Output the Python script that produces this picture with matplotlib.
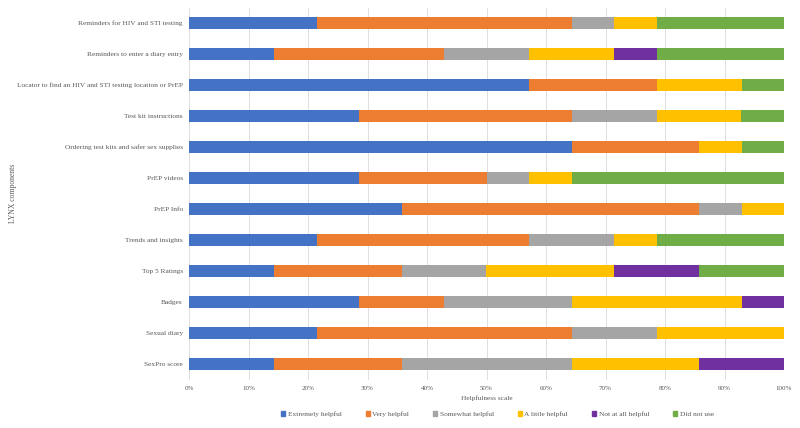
import numpy as np
import matplotlib
matplotlib.use("Agg")
import matplotlib.pyplot as plt
from matplotlib.patches import Patch

# ==========================
# data (number of respondents, n = 14)
# ==========================
components = [
    "Reminders for HIV and STI testing",
    "Reminders to enter a diary entry",
    "Locator to find an HIV and STI testing location or PrEP",
    "Test kit instructions",
    "Ordering test kits and safer sex supplies",
    "PrEP videos",
    "PrEP Info",
    "Trends and insights",
    "Top 5 Ratings",
    "Badges",
    "Sexual diary",
    "SexPro score",
]

levels = ["Extremely helpful", "Very helpful", "Somewhat helpful",
          "A little helpful", "Not at all helpful", "Did not use"]

extremely = [3, 2, 8, 4, 9, 4, 5, 3, 2, 4, 3, 2]
very      = [6, 4, 3, 5, 3, 3, 7, 5, 3, 2, 6, 3]
somewhat  = [1, 2, 0, 2, 0, 1, 1, 2, 2, 3, 2, 4]
little    = [1, 2, 2, 2, 1, 1, 1, 1, 3, 4, 3, 3]
not_at    = [0, 1, 0, 0, 0, 0, 0, 0, 2, 1, 0, 2]
not_used  = [3, 3, 1, 1, 1, 5, 0, 3, 2, 0, 0, 0]

ticks = [0, 10, 20, 30, 40, 50, 60, 70, 80, 90, 100]

colors = ["#4472C4", "#ED7D31", "#A5A5A5", "#FFC000", "#7030A0", "#70AD47"]
TEXT = "#595959"

# ==========================
# plot
# ==========================
plt.rcParams["font.family"] = ["Liberation Serif", "DejaVu Serif"]

counts = np.array([extremely, very, somewhat, little, not_at, not_used], dtype=float)
pct = counts / counts.sum(axis=0) * 100

fig = plt.figure(figsize=(8.0, 4.28), dpi=100)
ax = fig.add_axes([189 / 800, 1 - 379.5 / 428, 595 / 800, 372 / 428])

y = np.arange(len(components))
left = np.zeros(len(components))
for vals, lab, col in zip(pct, levels, colors):
    ax.barh(y, vals, left=left, height=0.39, color=col, label=lab, zorder=3)
    left += vals

ax.set_ylim(len(components) - 0.5, -0.5)
ax.set_xlim(0, 100)
ax.set_yticks(y)
ax.set_yticklabels(components, fontsize=5.3, color=TEXT)
ax.set_xticks(ticks)
ax.set_xticklabels([f"{t}%" for t in ticks], fontsize=5.0, color=TEXT)
ax.tick_params(axis="both", length=0)
ax.tick_params(axis="y", pad=4.5)
ax.tick_params(axis="x", pad=5)
ax.grid(axis="x", color="#D9D9D9", linewidth=0.6, zorder=0)
for s in ax.spines.values():
    s.set_visible(False)

ax.set_xlabel("Helpfulness scale", fontsize=5.2, color=TEXT, labelpad=2.5)
fig.text(13 / 800, 1 - 193.5 / 428, "LYNX components", rotation=90,
         ha="center", va="center", fontsize=5.5, color=TEXT)

handles = [Patch(color=c, label=l) for c, l in zip(colors, levels)]
fig.legend(handles=handles, loc="center", bbox_to_anchor=(0.622, 1 - 414 / 428),
           ncol=6, frameon=False, fontsize=5.3, handlelength=0.55, handleheight=0.55,
           handletextpad=0.35, columnspacing=3.25, labelcolor=TEXT)

fig.savefig("out.png", dpi=100)
